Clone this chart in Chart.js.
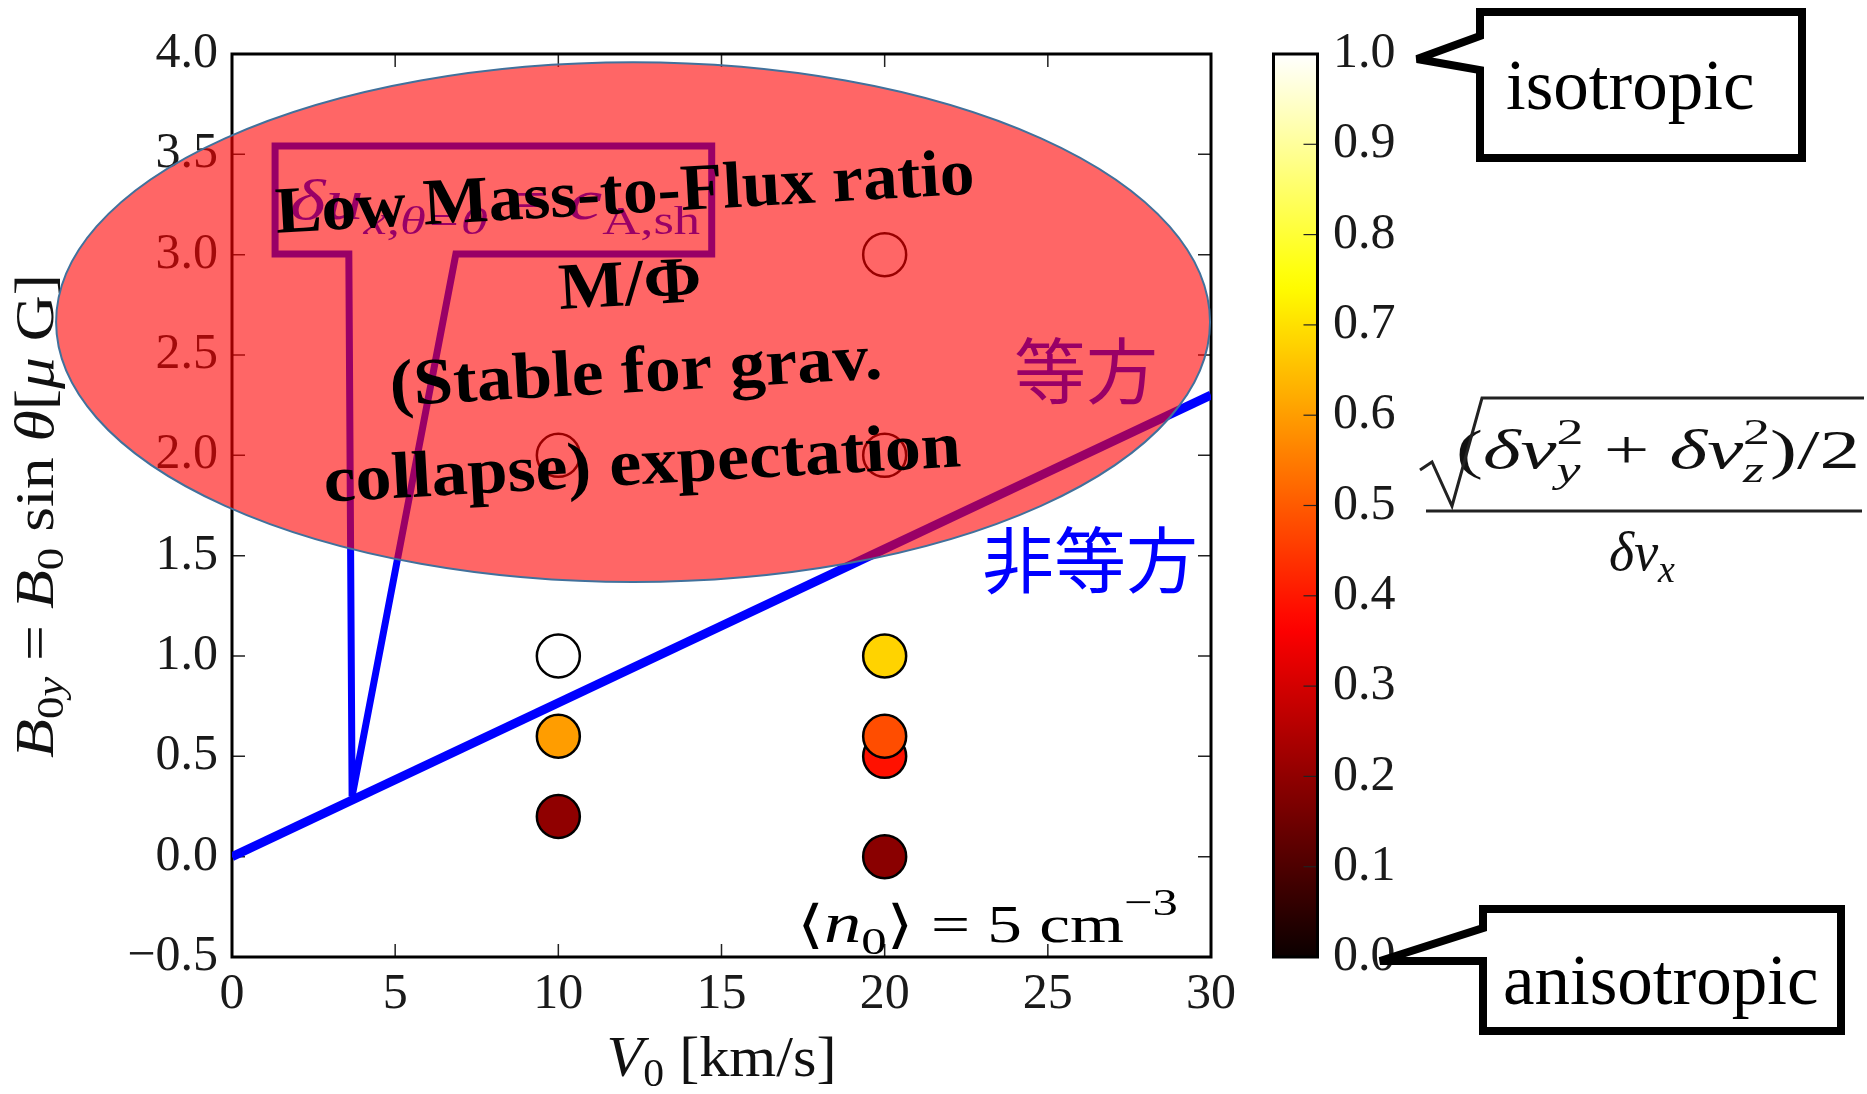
<!DOCTYPE html>
<html>
<head>
<meta charset="utf-8">
<title>B0y vs V0</title>
<style>
  html, body { margin: 0; padding: 0; background: #fff; }
  canvas { display: block; }
</style>
</head>
<body>
<canvas id="myChart" width="1867" height="1094"></canvas>
<script src="https://cdn.jsdelivr.net/npm/chart.js"></script>
<script>
  // values
  var v0Values    = [10, 10, 10, 10, 20, 20, 20, 20, 20, 20];
  var b0yValues   = [2.0, 1.0, 0.6, 0.2, 3.0, 2.0, 1.0, 0.5, 0.6, 0.0];
  var ratioValues = [1.0, 1.0, 0.60, 0.20, 1.0, 1.0, 0.68, 0.39, 0.48, 0.19];

  // blue boundary line
  var lineV0 = [0, 30];
  var lineB0y = [0, 2.3];

  var xTicks  = [0, 5, 10, 15, 20, 25, 30];
  var yTicks  = [-0.5, 0, 0.5, 1.0, 1.5, 2.0, 2.5, 3.0, 3.5, 4.0];
  var cbTicks = [0, 0.1, 0.2, 0.3, 0.4, 0.5, 0.6, 0.7, 0.8, 0.9, 1.0];

  var SERIF = "'Liberation Serif', 'DejaVu Serif', serif";
  var CJK = "'Noto Sans CJK JP', 'Noto Sans CJK SC', sans-serif";

  // matplotlib "hot" colormap
  function hot(v) {
    v = Math.max(0, Math.min(1, v));
    var r = Math.min(1, 0.0416 + v * (1 - 0.0416) / 0.365079);
    var g = Math.max(0, Math.min(1, (v - 0.365079) / 0.380953));
    var b = Math.max(0, Math.min(1, (v - 0.746032) / 0.253968));
    return 'rgb(' + Math.round(r * 255) + ',' + Math.round(g * 255) + ',' + Math.round(b * 255) + ')';
  }

  function fontOf(r) {
    return (r.italic ? 'italic ' : '') + (r.bold ? 'bold ' : '') + r.size + 'px ' + (r.family || SERIF);
  }

  function runsWidth(ctx, runs) {
    var w = 0;
    runs.forEach(function (r) {
      ctx.font = fontOf(r);
      var w1 = ctx.measureText(r.t).width, w2 = 0;
      if (r.t2) {
        ctx.font = fontOf({size: r.size, italic: r.italic2});
        w2 = ctx.measureText(r.t2).width;
      }
      r.w = Math.max(w1, w2);
      w += r.w;
    });
    return w;
  }

  // draws a list of text pieces (with sub/superscripts) on one baseline
  function drawRuns(ctx, runs, x, y, align, target) {
    var w = runsWidth(ctx, runs);
    var sx = target ? target / w : 1;
    var start = align === 'center' ? -w * sx / 2 : (align === 'right' ? -w * sx : 0);
    ctx.save();
    ctx.translate(x + start, y);
    ctx.scale(sx, 1);
    ctx.textAlign = 'left';
    ctx.textBaseline = 'alphabetic';
    var cx = 0;
    runs.forEach(function (r) {
      ctx.font = fontOf(r);
      ctx.fillText(r.t, cx, r.dy || 0);
      if (r.t2) {
        ctx.font = fontOf({size: r.size, italic: r.italic2});
        ctx.fillText(r.t2, cx, r.dy2 || 0);
      }
      cx += r.w;
    });
    ctx.restore();
  }

  var decor = {
    id: 'decor',
    beforeDatasetsDraw: function (chart) {
      var c = chart.ctx, a = chart.chartArea;
      var xs = chart.scales.x, ys = chart.scales.y;
      c.save();
      c.strokeStyle = '#222';
      c.lineWidth = 1.5;
      xTicks.forEach(function (v) {
        var p = xs.getPixelForValue(v);
        c.beginPath();
        c.moveTo(p, a.bottom); c.lineTo(p, a.bottom - 13);
        c.moveTo(p, a.top); c.lineTo(p, a.top + 13);
        c.stroke();
      });
      yTicks.forEach(function (v) {
        var p = ys.getPixelForValue(v);
        c.beginPath();
        c.moveTo(a.left, p); c.lineTo(a.left + 13, p);
        c.moveTo(a.right, p); c.lineTo(a.right - 13, p);
        c.stroke();
      });
      c.strokeStyle = '#000';
      c.lineWidth = 3;
      c.strokeRect(a.left, a.top, a.right - a.left, a.bottom - a.top);
      c.restore();
    },
    afterDatasetsDraw: function (chart) {
      var c = chart.ctx, a = chart.chartArea;
      var xs = chart.scales.x, ys = chart.scales.y, cb = chart.scales.cb;
      var px = function (v) { return xs.getPixelForValue(v); };
      var py = function (v) { return ys.getPixelForValue(v); };
      c.save();

      // blue callout pointing at the boundary line
      c.strokeStyle = '#0000ff';
      c.lineWidth = 7;
      c.lineJoin = 'miter';
      c.miterLimit = 3;
      c.beginPath();
      c.moveTo(px(1.32), py(3.541));
      c.lineTo(px(14.7), py(3.541));
      c.lineTo(px(14.7), py(3.003));
      c.lineTo(px(6.86), py(3.003));
      c.lineTo(px(3.68), py(0.30));
      c.lineTo(px(3.58), py(3.003));
      c.lineTo(px(1.32), py(3.003));
      c.closePath();
      c.stroke();

      c.fillStyle = '#0000ff';
      drawRuns(c, [
        {t: 'δu', size: 58, italic: true},
        {t: 'x,θ=0', size: 40, italic: true, dy: 15},
        {t: ' = ', size: 58},
        {t: 'c', size: 58, italic: true},
        {t: 'A,sh', size: 40, dy: 15}
      ], px(1.32) + 15, py(3.541) + 73, 'left', 410);

      // region labels
      c.textAlign = 'center';
      c.textBaseline = 'middle';
      c.font = '72px ' + CJK;
      c.fillStyle = '#0000ff';
      c.fillText('等方', px(26.17), py(2.42));
      c.fillText('非等方', px(26.29), py(1.48));

      // density label
      c.fillStyle = '#000';
      drawRuns(c, [
        {t: '⟨', size: 52},
        {t: 'n', size: 56, italic: true},
        {t: '0', size: 38, dy: 12},
        {t: '⟩', size: 52},
        {t: ' = 5 cm', size: 52},
        {t: '−3', size: 38, dy: -27}
      ], px(17.31), py(-0.425), 'left', 381);

      // axis titles
      c.fillStyle = '#111';
      drawRuns(c, [
        {t: 'V', size: 58, italic: true},
        {t: '0', size: 40, dy: 10},
        {t: ' [km/s]', size: 58}
      ], (a.left + a.right) / 2, 1076, 'center', 230);

      c.save();
      c.translate(53, 516);
      c.rotate(-Math.PI / 2);
      drawRuns(c, [
        {t: 'B', size: 54, italic: true},
        {t: '0', size: 38, dy: 10},
        {t: 'y', size: 38, italic: true, dy: 10},
        {t: ' = ', size: 54},
        {t: 'B', size: 54, italic: true},
        {t: '0', size: 38, dy: 10},
        {t: ' sin ', size: 54},
        {t: 'θ', size: 54, italic: true},
        {t: '[', size: 54},
        {t: 'μ', size: 54, italic: true},
        {t: ' G]', size: 54}
      ], 0, 0, 'center', 484);
      c.restore();

      // colorbar
      var top = cb.getPixelForValue(1), bot = cb.getPixelForValue(0);
      var grad = c.createLinearGradient(0, bot, 0, top);
      for (var i = 0; i <= 50; i++) grad.addColorStop(i / 50, hot(i / 50));
      c.fillStyle = grad;
      c.fillRect(1273.5, top, 44, bot - top);
      c.strokeStyle = '#222';
      c.lineWidth = 1.2;
      cbTicks.forEach(function (v) {
        var p = cb.getPixelForValue(v);
        c.beginPath();
        c.moveTo(1317.5, p); c.lineTo(1303.5, p);
        c.stroke();
      });
      c.strokeStyle = '#000';
      c.lineWidth = 3;
      c.strokeRect(1273.5, top, 44, bot - top);

      // colorbar quantity
      c.fillStyle = '#111';
      drawRuns(c, [
        {t: '(', size: 54},
        {t: 'δv', size: 54, italic: true},
        {t: '2', size: 36, dy: -24, t2: 'y', italic2: true, dy2: 14},
        {t: ' + ', size: 54},
        {t: 'δv', size: 54, italic: true},
        {t: '2', size: 36, dy: -24, t2: 'z', italic2: true, dy2: 14},
        {t: ')/2', size: 54}
      ], 1456, 468, 'left', 404);
      c.strokeStyle = '#222';
      c.lineWidth = 3;
      c.lineJoin = 'miter';
      c.beginPath();
      c.moveTo(1420, 470); c.lineTo(1432, 462); c.lineTo(1452, 506);
      c.lineTo(1482, 398); c.lineTo(1864, 398);
      c.stroke();
      c.beginPath();
      c.moveTo(1426, 511); c.lineTo(1862, 511);
      c.stroke();
      drawRuns(c, [
        {t: 'δv', size: 54, italic: true},
        {t: 'x', size: 38, italic: true, dy: 12}
      ], 1642, 570, 'center');

      // isotropic / anisotropic callouts
      c.lineWidth = 8;
      c.strokeStyle = '#000';
      c.fillStyle = '#fff';
      c.lineJoin = 'miter';
      c.miterLimit = 2;
      c.beginPath();
      c.moveTo(1480, 12); c.lineTo(1802, 12); c.lineTo(1802, 158); c.lineTo(1480, 158);
      c.lineTo(1480, 70); c.lineTo(1417, top + 5); c.lineTo(1480, 36);
      c.closePath();
      c.fill(); c.stroke();
      c.beginPath();
      c.moveTo(1483, 909); c.lineTo(1841, 909); c.lineTo(1841, 1031); c.lineTo(1483, 1031);
      c.lineTo(1483, bot + 4); c.lineTo(1380, bot + 4); c.lineTo(1483, 928);
      c.closePath();
      c.fill(); c.stroke();
      c.fillStyle = '#000';
      c.textAlign = 'left';
      c.textBaseline = 'alphabetic';
      c.font = '71px ' + SERIF;
      c.fillText('isotropic', 1506, 109);
      c.fillText('anisotropic', 1503, 1004);

      c.restore();
    },
    afterDraw: function (chart) {
      var c = chart.ctx;
      var xs = chart.scales.x, ys = chart.scales.y;
      var px = function (v) { return xs.getPixelForValue(v); };
      var py = function (v) { return ys.getPixelForValue(v); };
      c.save();
      // translucent red region
      var ex = px(12.29), ey = py(2.664);
      var rx = px(12.29 + 17.68) - ex, ry = ey - py(2.664 + 1.295);
      c.beginPath();
      c.ellipse(ex, ey, rx, ry, 0, 0, Math.PI * 2);
      c.fillStyle = 'rgba(255,0,0,0.6)';
      c.fill();
      c.strokeStyle = '#41719c';
      c.lineWidth = 2;
      c.stroke();

      c.fillStyle = '#000';
      var lines = [
        ['Low Mass-to-Flux ratio', 12.07, 3.207, 700],
        ['M/Φ', 12.23, 2.749, 143],
        ['(Stable for grav.', 12.41, 2.316, 493],
        ['collapse) expectation', 12.60, 1.857, 638]
      ];
      lines.forEach(function (l) {
        c.save();
        c.translate(px(l[1]), py(l[2]));
        c.rotate(-3.2 * Math.PI / 180);
        drawRuns(c, [{t: l[0], size: 66, bold: true}], 0, 0, 'center', l[3]);
        c.restore();
      });
      c.restore();
    }
  };

  var tickFont = {family: SERIF, size: 50};

  // keep the big label padding of the colorbar axis from shrinking the plot
  function noVPad(s) { s.paddingTop = 0; s.paddingBottom = 0; }

  var ctx = document.getElementById('myChart').getContext('2d');
  var myChart = new Chart(ctx, {
    type: 'scatter',
    data: {
      datasets: [
        {
          type: 'line',
          data: lineV0.map(function (x, i) { return {x: x, y: lineB0y[i]}; }),
          borderColor: '#0000ff',
          borderWidth: 9,
          pointRadius: 0,
          fill: false,
          order: 2
        },
        {
          data: v0Values.map(function (x, i) { return {x: x, y: b0yValues[i]}; }),
          backgroundColor: ratioValues.map(hot),
          borderColor: '#000',
          borderWidth: 2.5,
          pointRadius: 21.5,
          pointHoverRadius: 21.5,
          order: 1
        }
      ]
    },
    options: {
      responsive: false,
      animation: false,
      devicePixelRatio: 1,
      events: [],
      layout: {padding: {top: 54, left: 0, right: 0, bottom: 0}},
      plugins: {
        legend: {display: false},
        tooltip: {enabled: false}
      },
      scales: {
        x: {
          type: 'linear',
          position: 'bottom',
          min: 0,
          max: 30,
          afterBuildTicks: function (s) { s.ticks = xTicks.map(function (v) { return {value: v}; }); },
          afterFit: function (s) { s.height = 137; s.paddingLeft = 0; s.paddingRight = 0; },
          grid: {display: false, drawTicks: false},
          border: {display: false},
          ticks: {font: tickFont, color: '#1a1a1a', padding: 8, maxRotation: 0, autoSkip: false,
                  callback: function (v) { return String(v); }}
        },
        y: {
          type: 'linear',
          position: 'left',
          min: -0.5,
          max: 4.0,
          afterBuildTicks: function (s) { s.ticks = yTicks.map(function (v) { return {value: v}; }); },
          afterFit: function (s) { s.width = 232; noVPad(s); },
          grid: {display: false, drawTicks: false},
          border: {display: false},
          ticks: {font: tickFont, color: '#1a1a1a', padding: 14, autoSkip: false,
                  callback: function (v) { return (v < 0 ? '−' : '') + Math.abs(v).toFixed(1); }}
        },
        cb: {
          type: 'linear',
          axis: 'y',
          position: 'right',
          min: 0,
          max: 1,
          afterBuildTicks: function (s) { s.ticks = cbTicks.map(function (v) { return {value: v}; }); },
          afterFit: function (s) { s.width = 656; noVPad(s); },
          grid: {display: false, drawTicks: false},
          border: {display: false},
          ticks: {font: tickFont, color: '#1a1a1a', padding: 122, autoSkip: false,
                  callback: function (v) { return v.toFixed(1); }}
        }
      }
    },
    plugins: [decor]
  });
</script>
</body>
</html>
